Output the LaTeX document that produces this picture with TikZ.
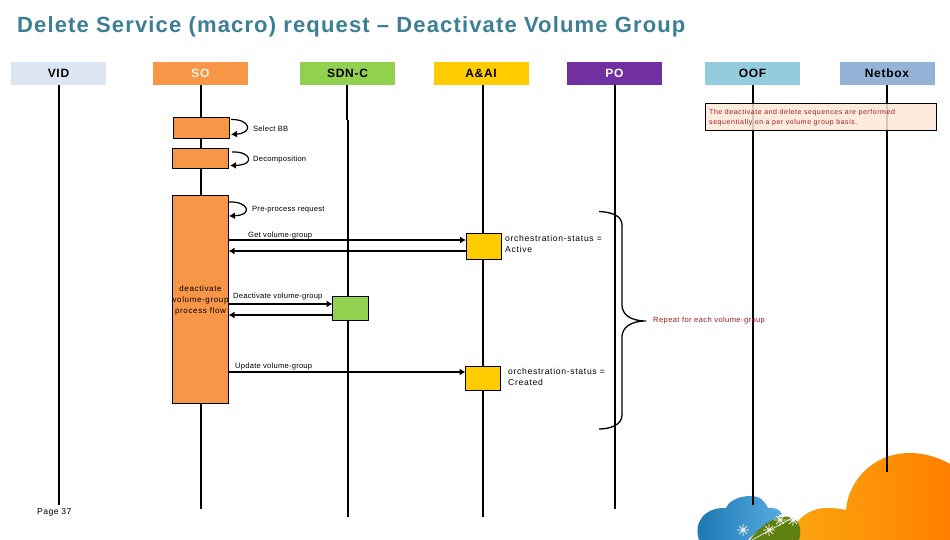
\documentclass[tikz,border=0pt]{standalone}
\usepackage{fontspec}
\setmainfont{Liberation Sans}
\usetikzlibrary{arrows.meta}
\definecolor{titlec}{HTML}{3B7F95}
\definecolor{orangec}{HTML}{F79646}
\definecolor{greenc}{HTML}{92D050}
\definecolor{yellowc}{HTML}{FFCC00}
\definecolor{purplec}{HTML}{7030A0}
\definecolor{vidc}{HTML}{DCE6F2}
\definecolor{oofc}{HTML}{93CDDD}
\definecolor{netc}{HTML}{95B3D7}
\definecolor{notec}{HTML}{FDE9D9}
\definecolor{redtxt}{HTML}{A61C1C}
\definecolor{cloudba}{HTML}{1B75B0}
\definecolor{cloudbb}{HTML}{55ACE0}
\definecolor{cloudoa}{HTML}{FBA510}
\definecolor{cloudob}{HTML}{FF8000}
\definecolor{cloudg}{HTML}{5E8010}
\newcommand{\lsfont}[3]{\fontsize{#1}{#3}\selectfont\addfontfeature{LetterSpace=#2}}
\tikzset{
  head/.style={minimum width=95pt,minimum height=23pt,inner sep=0pt,outer sep=0pt,font=\fontsize{12}{12}\selectfont\bfseries\addfontfeature{LetterSpace=6}},
  life/.style={line width=1.3pt},
  act/.style={draw=black,line width=0.7pt,inner sep=0pt,outer sep=0pt,anchor=north west},
  msg/.style={line width=1.3pt,-{Latex[length=6pt,width=7pt]}},
  lab/.style={inner sep=0pt,anchor=west,align=left},
  loopa/.style={line width=1.2pt,-{Latex[length=6pt,width=7pt]}}
}
\begin{document}
\begin{tikzpicture}[x=1pt,y=-1pt]
\useasboundingbox (0,0) rectangle (950,540);
\fill[white] (0,0) rectangle (950,540);
% logo clouds
\begin{scope}
\clip (0,0) rectangle (950,540);
\shade[left color=cloudoa,right color=cloudob,draw=none]
  (790,540) .. controls (792,520) and (810,508) .. (826,508)
  .. controls (835,508) and (842,509) .. (846,510)
  .. controls (848,482) and (872,453) .. (910,453)
  .. controls (925,453) and (940,458) .. (950,464)
  -- (950,540) -- cycle;
\shade[left color=cloudba,right color=cloudbb,draw=none]
  (699,540) .. controls (693,522) and (705,507) .. (726,508)
  .. controls (730,499) and (742,496) .. (750,496)
  .. controls (760,496) and (764,500) .. (768,508)
  .. controls (775,507) and (780,510) .. (782,514)
  .. controls (770,522) and (755,532) .. (748,540) -- cycle;
\fill[cloudg]
  (750,540) .. controls (760,525) and (778,514) .. (790,517)
  .. controls (800,520) and (802,530) .. (799,540) -- cycle;
\end{scope}
\foreach \p in {(743,530),(769,530),(780,520),(793,520)}{
  \draw[white,line width=0.7pt] \p ++(-6,0) -- ++(12,0) \p ++(0,-6) -- ++(0,12)
    \p ++(-4,-4) -- ++(8,8) \p ++(-4,4) -- ++(8,-8);
}
\draw[white,line width=0.6pt] (752,540) -- (810,508);
% title
\node[anchor=west,inner sep=0pt,text=titlec,font=\bfseries\lsfont{22}{5.2}{24}] (title) at (17,27) {Delete Service (macro) request -- Deactivate Volume Group};
% headers
\node[head,fill=vidc] (vid) at (58.5,73.5) {VID};
\node[head,fill=orangec,text=white!90!orange] (so) at (200.5,73.5) {SO};
\node[head,fill=greenc] (sdnc) at (347.5,73.5) {SDN-C};
\node[head,fill=yellowc] (aai) at (481,73.5) {A\&AI};
\node[head,fill=purplec,text=white] (po) at (614.5,73.5) {PO};
\node[head,fill=oofc] (oof) at (752.5,73.5) {OOF};
\node[head,fill=netc] (netbox) at (887,73.5) {Netbox};
% lifelines
\coordinate (vide) at (59,505);
\coordinate (soe) at (201,509);
\coordinate (sdne) at (348,517);
\coordinate (aaie) at (483,517);
\coordinate (poe) at (615,509);
\coordinate (oofe) at (753,505);
\coordinate (nete) at (887,472);
\draw[life] (59,85) -- (vide);
\draw[life] (201,85) -- (soe);
\draw[life] (347,85) -- (347,120) (348,120) -- (sdne);
\draw[life] (483,85) -- (aaie);
\draw[life] (615,85) -- (poe);
\draw[life] (753,85) -- (oofe);
\draw[life] (887,85) -- (nete);
% note
\node[act,fill=notec,fill opacity=0.85,text opacity=1,minimum width=231pt,minimum height=27pt] (note) at (705.5,103.5) {};
\node[lab,text=redtxt,font=\lsfont{7}{8}{10.4}] (notet) at (709,117.5) {The deactivate and delete sequences are performed\\sequentially on a per volume group basis.};
% activations
\node[act,fill=orangec,minimum width=56pt,minimum height=21pt] (select) at (173.5,117.5) {};
\node[act,fill=orangec,minimum width=56pt,minimum height=20pt] (decomp) at (172.5,148.5) {};
\node[act,fill=orangec,minimum width=56pt,minimum height=208pt] (main) at (172.5,195.5) {};
\node[act,fill=yellowc,minimum width=35pt,minimum height=26pt] (aai1) at (466,233.5) {};
\node[act,fill=greenc,minimum width=36pt,minimum height=24pt] (sdn1) at (332.5,296.5) {};
\node[act,fill=yellowc,minimum width=35pt,minimum height=24pt] (aai2) at (465.5,366.5) {};
% self loops
\draw[loopa] (231,119.5) .. controls (250,119) and (254,133) .. (231,134.5);
\draw[loopa] (232,152) .. controls (251,151) and (256,165) .. (230,165.5);
\draw[loopa] (229,202) .. controls (248,201) and (254,215) .. (229,216);
% messages
\draw[msg] (main.east |- 0,240) -- (aai1.west |- 0,240);
\draw[msg] (aai1.west |- 0,251) -- (main.east |- 0,251);
\draw[msg] (main.east |- 0,304) -- (sdn1.west |- 0,304);
\draw[msg] (sdn1.west |- 0,315) -- (main.east |- 0,315);
\draw[msg] (main.east |- 0,372) -- (aai2.west |- 0,372);
% labels
\node[lab,font=\lsfont{7.6}{3}{9}] (l1) at (253,129) {Select BB};
\node[lab,font=\lsfont{7.6}{3}{9}] (l2) at (253,160) {Decomposition};
\node[lab,font=\lsfont{7.6}{3}{9}] (l3) at (252,209.5) {Pre-process request};
\node[lab,font=\lsfont{7.6}{3}{9}] (l4) at (248,235.5) {Get volume-group};
\node[lab,font=\lsfont{7.6}{3}{9}] (l5) at (233,296.5) {Deactivate volume-group};
\node[lab,font=\lsfont{7.6}{3}{9}] (l6) at (235,366.5) {Update volume-group};
\node[font=\lsfont{8}{8}{11},inner sep=0pt,align=center] (l7) at (200.5,300.5) {deactivate\\volume-group\\process flow};
\node[lab,font=\lsfont{8.6}{8}{11}] (l8) at (505,243.5) {orchestration-status =\\Active};
\node[lab,font=\lsfont{8.6}{8}{11}] (l9) at (508,376.5) {orchestration-status =\\Created};
\node[lab,text=redtxt,font=\lsfont{7.6}{5}{9}] (l10) at (653,321) {Repeat for each volume-group};
\node[lab,font=\lsfont{8.6}{5}{10}] (page) at (37,512.5) {Page 37};
% brace
\coordinate (bt) at (599,211.5);
\coordinate (bb) at (599,429);
\coordinate (btip) at (646,321);
\draw[line width=1.3pt] (bt) .. controls (610,212) and (622,215) .. (622,225)
  -- (622,305) .. controls (622,314) and (630,321) .. (btip)
  .. controls (630,321) and (622,328) .. (622,337)
  -- (622,415) .. controls (622,425) and (610,429) .. (bb);
\end{tikzpicture}
\end{document}
